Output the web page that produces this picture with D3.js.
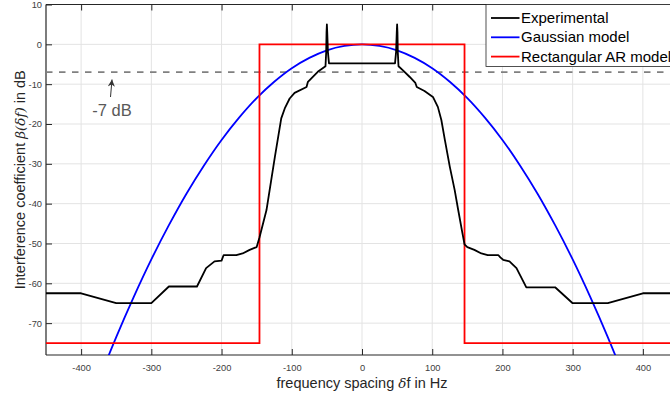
<!DOCTYPE html>
<html><head><meta charset="utf-8">
<script src="https://cdn.jsdelivr.net/npm/d3@7/dist/d3.min.js"></script>
<style>body{margin:0;background:#fff}svg{display:block;font-family:"Liberation Sans",Arial,sans-serif}</style>
</head><body>
<svg id="c" width="670" height="396"></svg>
<script>
// ---- data ----
const xTicks = [-400,-300,-200,-100,0,100,200,300,400];
const yTicks = [-70,-60,-50,-40,-30,-20,-10,0,10];
const expF = [-450,-400,-350,-300,-275,-235,-222,-210,-200,-197,-179,-170,-160,-150,-146,-136,-124,-115,-110,-103,-96,-79,-77,-63,-52,-51,-50.5,-50,-49.5,-48.5,-47,
              47,48.5,49.5,50,50.5,51,52,58,68,76,78,89,101,108,113,118,125,132,137,143,146,150,160,170,179,194,197,201,210,220,234,275,300,350,400,450];
const expV = [-62.5,-62.5,-65,-65,-60.8,-60.8,-56.2,-54.5,-54.3,-52.9,-52.9,-52.5,-51.6,-50.9,-48.5,-41.6,-28.2,-18.6,-16.1,-13.6,-12.2,-10.7,-9.4,-6.9,-5.5,-2,3,5,3,-2,-4.8,
              -4.8,-2,3,5,3,-2,-5.5,-6.5,-8.2,-9.7,-10.7,-11.7,-13.2,-15.7,-19,-24,-30.7,-36.6,-41.6,-47.4,-50.2,-50.9,-51.6,-52.5,-52.9,-52.9,-53.5,-54.1,-54.5,-56.2,-61,-61,-65,-65,-62.5,-62.5];
const gaussF = [-400,-375,-350,-325,-300,-275,-250,-225,-200,-175,-150,-125,-100,-75,-50,-25,0,25,50,75,100,125,150,175,200,225,250,275,300,325,350,375,400];
const gaussV = [-96,-84.4,-73.5,-63.4,-54,-45.4,-37.5,-30.4,-24,-18.4,-13.5,-9.4,-6,-3.4,-1.5,-0.4,0,-0.4,-1.5,-3.4,-6,-9.4,-13.5,-18.4,-24,-30.4,-37.5,-45.4,-54,-63.4,-73.5,-84.4,-96];
const rectF = [-450,-146,-146,146,146,450];
const rectV = [-75,-75,0,0,-75,-75];
const thresholdDb = -7;
const legendLabels = ["Experimental","Gaussian model","Rectangular AR model"];
const legendColors = ["#000000","#0000ff","#ff0000"];

// ---- layout ----
const L=46, R=678, T=4.5, B=355;
const svg = d3.select("#c");
const x = d3.scaleLinear().domain([-450,450]).range([L,R]);
const y = d3.scaleLinear().domain([-78,10]).range([B,T]);

svg.append("defs").append("clipPath").attr("id","pc").append("rect")
  .attr("x",L).attr("y",T).attr("width",R-L).attr("height",B-T);

// grid
const g = svg.append("g");
g.selectAll(".gx").data(xTicks).enter().append("line")
  .attr("x1",d=>x(d)).attr("x2",d=>x(d)).attr("y1",T).attr("y2",B)
  .attr("stroke","#e3e3e3").attr("stroke-width",1);
g.selectAll(".gy").data(yTicks).enter().append("line")
  .attr("y1",d=>y(d)).attr("y2",d=>y(d)).attr("x1",L).attr("x2",R)
  .attr("stroke","#e3e3e3").attr("stroke-width",1);

// axes
const axCol="#262626";
const fmt = d=>String(d);
const xb = svg.append("g").attr("transform",`translate(0,${B})`)
  .call(d3.axisBottom(x).tickValues(xTicks).tickSize(-6).tickPadding(9).tickFormat(fmt));
const xt = svg.append("g").attr("transform",`translate(0,${T})`)
  .call(d3.axisTop(x).tickValues(xTicks).tickSize(-6).tickFormat(""));
const yl = svg.append("g").attr("transform",`translate(${L},0)`)
  .call(d3.axisLeft(y).tickValues(yTicks).tickSize(-6).tickPadding(4).tickFormat(fmt));
[xb,xt,yl].forEach(a=>{
  a.select(".domain").attr("stroke",axCol).attr("stroke-width",1.2);
  a.selectAll(".tick line").attr("stroke",axCol).attr("stroke-width",1);
  a.selectAll(".tick text").attr("fill","#404040").attr("font-size",9.3)
   .attr("font-family","Liberation Sans, Arial, sans-serif");
});
xb.select(".domain").attr("d",`M${L},0H${R}`);
xt.select(".domain").attr("d",`M${L},0H${R}`);
yl.select(".domain").attr("d",`M0,${T}V${B}`);

// series
const pc = svg.append("g").attr("clip-path","url(#pc)");
const line = d3.line().x(d=>x(d[0])).y(d=>y(d[1]));
pc.append("line").attr("x1",L).attr("x2",R).attr("y1",y(thresholdDb)).attr("y2",y(thresholdDb))
  .attr("stroke","#808080").attr("stroke-width",1.8).attr("stroke-dasharray","6.5,6.5");
pc.append("path").datum(gaussF.map((f,i)=>[f,gaussV[i]]))
  .attr("d",line.curve(d3.curveCatmullRom)).attr("fill","none").attr("stroke","#0000ff").attr("stroke-width",1.8);
pc.append("path").datum(rectF.map((f,i)=>[f,rectV[i]]))
  .attr("d",d3.line().x(d=>x(d[0])).y(d=>y(d[1]))).attr("fill","none").attr("stroke","#ff0000").attr("stroke-width",1.8);
pc.append("path").datum(expF.map((f,i)=>[f,expV[i]]))
  .attr("d",d3.line().x(d=>x(d[0])).y(d=>y(d[1]))).attr("fill","none").attr("stroke","#000").attr("stroke-width",1.8)
  .attr("stroke-linejoin","round");

// annotation
const ax0=110.5, ay0=97, ax1=112, ay1=79.5;
svg.append("defs").append("marker").attr("id","ah").attr("viewBox","0 0 10 10").attr("refX",10).attr("refY",5)
  .attr("markerWidth",11).attr("markerHeight",7).attr("markerUnits","userSpaceOnUse").attr("orient","auto")
  .append("path").attr("d","M0,0L10,5L0,10L3,5Z").attr("fill","#333");
svg.append("line").attr("x1",ax0).attr("y1",ay0).attr("x2",ax1).attr("y2",ay1)
  .attr("stroke","#333").attr("stroke-width",1).attr("marker-end","url(#ah)");
svg.append("text").attr("x",112).attr("y",116).attr("text-anchor","middle")
  .attr("font-size",16.5).attr("fill","#595959").text("-7 dB");

// labels
const xlab = svg.append("text").attr("x",362).attr("y",388).attr("text-anchor","middle")
  .attr("font-size",14.5).attr("fill",axCol);
xlab.append("tspan").text("frequency spacing ");
xlab.append("tspan").attr("font-style","italic").attr("font-family","DejaVu Serif, serif").attr("font-size",13.5).text("δ");
xlab.append("tspan").text("f in Hz");
const ylab = svg.append("text").attr("transform",`translate(25,${(T+B)/2}) rotate(-90)`).attr("text-anchor","middle")
  .attr("font-size",14.5).attr("fill",axCol);
ylab.append("tspan").text("Interference coefficient ");
ylab.append("tspan").attr("font-style","italic").attr("font-family","DejaVu Serif, serif").attr("font-size",13.5).text("β(δf)");
ylab.append("tspan").text(" in dB");

// legend
const lg = svg.append("g");
lg.append("rect").attr("x",486).attr("y",T).attr("width",210).attr("height",62)
  .attr("fill","#fff").attr("stroke",axCol).attr("stroke-width",0.8);
legendLabels.forEach((t,i)=>{
  const yy = 18 + i*19.3;
  lg.append("line").attr("x1",491).attr("x2",519.5).attr("y1",yy).attr("y2",yy)
    .attr("stroke",legendColors[i]).attr("stroke-width",1.8);
  lg.append("text").attr("x",521).attr("y",yy+5).attr("font-size",15).attr("fill","#000").text(t);
});
</script>
</body></html>
